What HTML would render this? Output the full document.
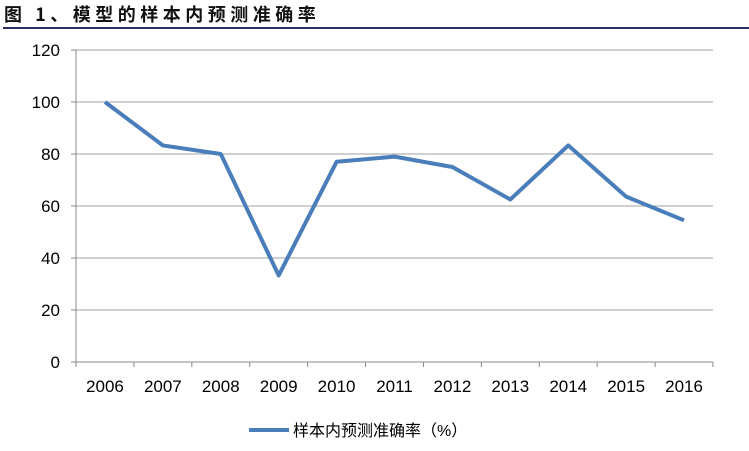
<!DOCTYPE html>
<html><head><meta charset="utf-8"><style>
body{margin:0;width:749px;height:451px;background:#fff;overflow:hidden;font-family:"Liberation Sans","Noto Sans CJK SC",sans-serif;}
#title{position:absolute;left:4px;top:1px;font-size:18px;font-weight:bold;color:#111;font-family:"Noto Sans CJK SC",sans-serif;letter-spacing:4.5px;white-space:nowrap}
#rule{position:absolute;left:3px;top:27px;width:746px;height:2px;background:#2b2f66}
svg{position:absolute;left:0;top:0}
</style></head><body>
<div id="title">图 1、模型的样本内预测准确率</div>
<div id="rule"></div>
<svg id="chart" width="749" height="451"></svg>
<script>
const categories=["2006","2007","2008","2009","2010","2011","2012","2013","2014","2015","2016"];
const values=[100,83.3,80,33.3,77,79,75,62.5,83.3,63.6,54.5];
const yTicks=[0,20,40,60,80,100,120];
const seriesName="样本内预测准确率（%）";
const NS="http://www.w3.org/2000/svg";
const svg=document.getElementById('chart');
const L=76,R=713,T=50,B=362,yMax=120;
const bw=(R-L)/categories.length;
const x=i=>L+bw*(i+0.5);
const y=v=>B-(v/yMax)*(B-T);
function mk(t,a){const e=document.createElementNS(NS,t);for(const k in a)e.setAttribute(k,a[k]);svg.appendChild(e);return e;}
yTicks.forEach(v=>{
  if(v>0){const g=mk('line',{x1:L,x2:R,y1:y(v),y2:y(v),stroke:'#a0a0a0','stroke-width':1});
  
  }
  mk('line',{x1:L-5,x2:L,y1:y(v),y2:y(v),stroke:'#888'});
  const t=mk('text',{x:L-16,y:y(v)+6,'text-anchor':'end','font-size':17,fill:'#000'});
  t.textContent=v;
  
  
});
mk('line',{x1:L,x2:L,y1:T,y2:B,stroke:'#888'});
mk('line',{x1:L,x2:R,y1:B,y2:B,stroke:'#888'});
categories.forEach((c,i)=>{
  mk('line',{x1:L+bw*i,x2:L+bw*i,y1:B,y2:B+5,stroke:'#888'});
  const t=mk('text',{x:x(i),y:B+30,'text-anchor':'middle','font-size':17,fill:'#000'});
  t.textContent=c;
  
  
});
mk('line',{x1:R,x2:R,y1:B,y2:B+5,stroke:'#888'});
const p=mk('polyline',{points:values.map((v,i)=>x(i)+','+y(v)).join(' '),fill:'none',stroke:'#4a7ebb','stroke-width':4,'stroke-linejoin':'round'});


const ll=mk('line',{x1:249,x2:289,y1:430,y2:430,stroke:'#4a7ebb','stroke-width':4});


const lt=mk('text',{x:293,y:436,'font-size':16,fill:'#000'});
lt.textContent=seriesName;


</script>
</body></html>
